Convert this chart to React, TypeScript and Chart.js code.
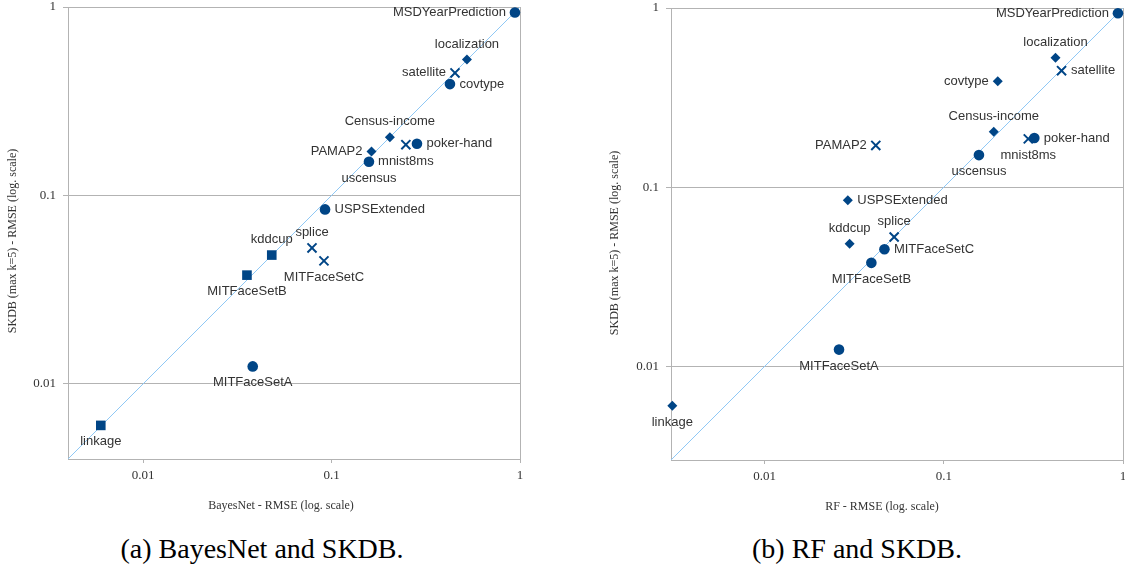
import React, { useEffect, useRef } from "react";
import { Chart, registerables } from "chart.js";

Chart.register(...registerables);

// ---- data ----
const datasetNames = [
  "MSDYearPrediction", "localization", "satellite", "covtype", "Census-income",
  "PAMAP2", "poker-hand", "mnist8ms", "uscensus", "USPSExtended", "splice",
  "kddcup", "MITFaceSetC", "MITFaceSetB", "MITFaceSetA", "linkage",
];
const skdbRMSE = [0.935, 0.527, 0.447, 0.39, 0.204, 0.171, 0.188, 0.186, 0.151, 0.0844, 0.0527, 0.0483, 0.045, 0.0378, 0.0124, 0.00603];
const bayesNetRMSE = [0.94, 0.523, 0.452, 0.425, 0.204, 0.163, 0.284, 0.248, 0.158, 0.0924, 0.0788, 0.0482, 0.0912, 0.0356, 0.0382, 0.00597];
const rfRMSE = [0.937, 0.42, 0.454, 0.2, 0.19, 0.0417, 0.32, 0.296, 0.157, 0.0291, 0.0528, 0.0298, 0.0466, 0.0394, 0.026, 0.00305];
const bayesNetMarkers = ["circle", "diamond", "cross", "circle", "diamond", "diamond", "circle", "cross", "circle", "circle", "cross", "square", "cross", "square", "circle", "square"];
const rfMarkers = ["circle", "diamond", "cross", "diamond", "diamond", "cross", "circle", "cross", "circle", "diamond", "cross", "diamond", "circle", "circle", "circle", "diamond"];
const bayesNetLabelSide = ["left", "above", "left", "right", "above", "left", "right", "below", "below", "right", "above", "above", "below", "below", "below", "below"];
const rfLabelSide = ["left", "above", "right", "left", "above", "left", "right", "below", "below", "right", "above", "above", "right", "below", "below", "below"];
const axisTicks = [0.01, 0.1, 1];
const bayesNetAxisMin = 0.004;
const rfAxisMin = 0.003;
const axisMax = 1;

// ---- styles ----
const MARK = "#004586";
const GRID = "#b3b3b3";
const TEXT = "#333333";
const shapeStyles: Record<string, any> = {
  circle: { pointStyle: "circle", pointRadius: 5.3, pointBorderWidth: 0, pointBackgroundColor: MARK, pointBorderColor: MARK },
  diamond: { pointStyle: "rectRot", pointRadius: 5, pointBorderWidth: 0, pointBackgroundColor: MARK, pointBorderColor: MARK },
  square: { pointStyle: "rect", pointRadius: 6.8, pointBorderWidth: 0, pointBackgroundColor: MARK, pointBorderColor: MARK },
  cross: { pointStyle: "crossRot", pointRadius: 6.4, pointBorderWidth: 2, pointBackgroundColor: MARK, pointBorderColor: MARK },
};

type PanelProps = {
  xValues: number[];
  markers: string[];
  sides: string[];
  axisMin: number;
  xTitle: string;
  left: number;
  width: number;
  padTop: number;
  padRight: number;
  yAxisWidth: number;
  xAxisHeight: number;
  xTitleX: number;
  xTitleY: number;
  yTitleX: number;
  yTitleY: number;
};

const overlayPlugin = {
  id: "overlay",
  beforeDatasetsDraw(chart: any) {
    const { ctx, chartArea } = chart;
    ctx.save();
    ctx.strokeStyle = GRID;
    ctx.lineWidth = 1;
    ctx.strokeRect(
      Math.round(chartArea.left) + 0.5,
      Math.round(chartArea.top) + 0.5,
      Math.round(chartArea.right - chartArea.left),
      Math.round(chartArea.bottom - chartArea.top)
    );
    ctx.restore();
  },
  afterDraw(chart: any, _args: any, opts: any) {
    const { ctx } = chart;
    ctx.save();
    // point labels
    ctx.font = '13px "Liberation Sans", Arial, sans-serif';
    ctx.fillStyle = TEXT;
    chart.data.datasets.forEach((ds: any, di: number) => {
      if (ds.isDiagonal) return;
      const meta = chart.getDatasetMeta(di);
      meta.data.forEach((el: any, i: number) => {
        const raw = ds.data[i];
        const x = el.x;
        const y = el.y;
        ctx.textBaseline = "middle";
        if (raw.side === "left") {
          ctx.textAlign = "right";
          ctx.fillText(raw.name, x - 9, y);
        } else if (raw.side === "right") {
          ctx.textAlign = "left";
          ctx.fillText(raw.name, x + 9.5, y);
        } else if (raw.side === "above") {
          ctx.textAlign = "center";
          ctx.fillText(raw.name, x, y - 15.5);
        } else {
          ctx.textAlign = "center";
          ctx.fillText(raw.name, x, y + 16.5);
        }
      });
    });
    // axis titles
    ctx.font = '12px "Liberation Serif", "Times New Roman", serif';
    ctx.fillStyle = TEXT;
    ctx.textAlign = "center";
    ctx.textBaseline = "middle";
    ctx.fillText(opts.xTitle, opts.xTitleX, opts.xTitleY);
    ctx.translate(opts.yTitleX, opts.yTitleY);
    ctx.rotate(-Math.PI / 2);
    ctx.fillText(opts.yTitle, 0, 0);
    ctx.restore();
  },
};

function ScatterPanel(p: PanelProps) {
  const ref = useRef<HTMLCanvasElement | null>(null);
  useEffect(() => {
    if (!ref.current) return;
    const shapes = ["circle", "diamond", "square", "cross"];
    const datasets: any[] = shapes
      .map((shape) => {
        const data = datasetNames
          .map((name, i) => ({ x: p.xValues[i], y: skdbRMSE[i], name, side: p.sides[i], shape: p.markers[i] }))
          .filter((d) => d.shape === shape);
        return { label: shape, data, ...shapeStyles[shape], clip: false, order: 0 };
      })
      .filter((d) => d.data.length > 0);
    datasets.push({
      label: "diagonal",
      isDiagonal: true,
      data: [
        { x: p.axisMin, y: p.axisMin },
        { x: axisMax, y: axisMax },
      ],
      showLine: true,
      borderColor: "#8fc8f5",
      borderWidth: 1,
      pointRadius: 0,
      order: 10,
    });
    const tickFont = { family: '"Liberation Serif", "Times New Roman", serif', size: 13 };
    const zeroPad = (scale: any) => {
      scale.paddingTop = 0;
      scale.paddingBottom = 0;
      scale.paddingLeft = 0;
      scale.paddingRight = 0;
    };
    const chart = new Chart(ref.current, {
      type: "scatter",
      data: { datasets },
      options: {
        animation: false,
        responsive: false,
        maintainAspectRatio: false,
        layout: { autoPadding: false, padding: { left: 0, top: p.padTop, right: p.padRight, bottom: 0 } },
        plugins: {
          legend: { display: false },
          tooltip: { enabled: false },
          overlay: {
            xTitle: p.xTitle,
            yTitle: "SKDB (max k=5) - RMSE (log. scale)",
            xTitleX: p.xTitleX,
            xTitleY: p.xTitleY,
            yTitleX: p.yTitleX,
            yTitleY: p.yTitleY,
          },
        } as any,
        scales: {
          x: {
            type: "logarithmic",
            min: p.axisMin,
            max: axisMax,
            afterBuildTicks: (scale: any) => {
              scale.ticks = axisTicks.map((v) => ({ value: v }));
            },
            afterFit: (scale: any) => {
              scale.height = p.xAxisHeight;
              zeroPad(scale);
            },
            grid: { drawOnChartArea: false, drawTicks: true, tickLength: 4, color: GRID },
            border: { display: false },
            ticks: { color: TEXT, font: tickFont, padding: 5, autoSkip: false, maxRotation: 0, callback: (v: any) => String(v) },
          },
          y: {
            type: "logarithmic",
            min: p.axisMin,
            max: axisMax,
            afterBuildTicks: (scale: any) => {
              scale.ticks = axisTicks.map((v) => ({ value: v }));
            },
            afterFit: (scale: any) => {
              scale.width = p.yAxisWidth;
              zeroPad(scale);
            },
            grid: { drawOnChartArea: true, drawTicks: true, tickLength: 5, color: GRID },
            border: { display: false },
            ticks: { color: TEXT, font: tickFont, padding: 7, autoSkip: false, callback: (v: any) => String(v) },
          },
        },
      } as any,
      plugins: [overlayPlugin],
    });
    return () => chart.destroy();
  }, []);
  return (
    <canvas
      ref={ref}
      width={p.width}
      height={520}
      style={{ position: "absolute", left: p.left, top: 0, width: p.width, height: 520, display: "block" }}
    />
  );
}

const captionStyle: React.CSSProperties = {
  position: "absolute",
  top: 549,
  fontFamily: '"Liberation Serif", "Times New Roman", serif',
  fontSize: 28,
  color: "#000",
  whiteSpace: "nowrap",
  transform: "translate(-50%, -50%)",
  lineHeight: 1,
};

export default function App() {
  return (
    <div style={{ position: "absolute", left: 0, top: 0, width: 1125, height: 567, background: "#fff", overflow: "hidden" }}>
      <ScatterPanel
        xValues={bayesNetRMSE}
        markers={bayesNetMarkers}
        sides={bayesNetLabelSide}
        axisMin={bayesNetAxisMin}
        xTitle="BayesNet - RMSE (log. scale)"
        left={0}
        width={560}
        padTop={7}
        padRight={40}
        yAxisWidth={68}
        xAxisHeight={61}
        xTitleX={281}
        xTitleY={506}
        yTitleX={13}
        yTitleY={241}
      />
      <ScatterPanel
        xValues={rfRMSE}
        markers={rfMarkers}
        sides={rfLabelSide}
        axisMin={rfAxisMin}
        xTitle="RF - RMSE (log. scale)"
        left={570}
        width={555}
        padTop={8}
        padRight={2}
        yAxisWidth={101}
        xAxisHeight={60}
        xTitleX={312}
        xTitleY={506.5}
        yTitleX={45}
        yTitleY={243}
      />
      <div style={{ ...captionStyle, left: 262 }}>(a) BayesNet and SKDB.</div>
      <div style={{ ...captionStyle, left: 857 }}>(b) RF and SKDB.</div>
    </div>
  );
}
